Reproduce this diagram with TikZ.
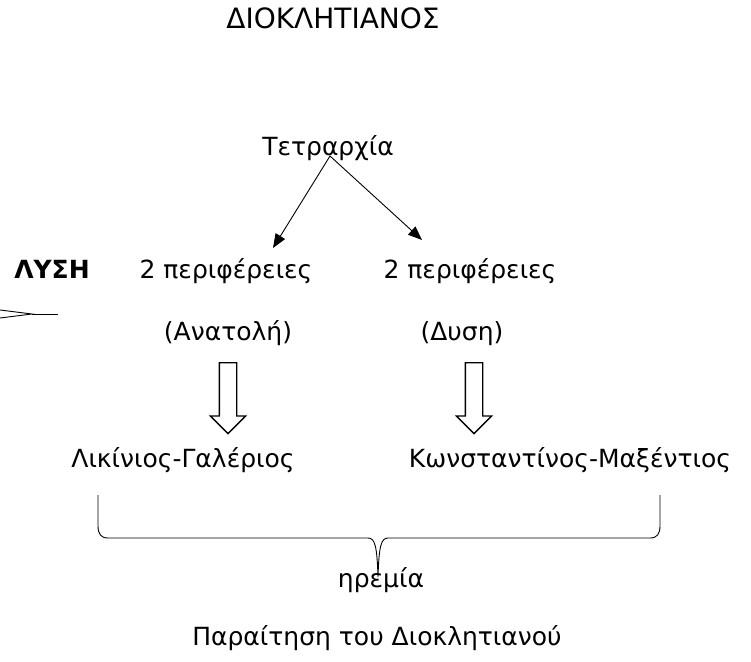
\documentclass[tikz,border=0pt]{standalone}
\usepackage{fontspec}
\setmainfont{DejaVu Sans}
\usetikzlibrary{arrows.meta,shapes.arrows}
\begin{document}
\begin{tikzpicture}[x=1pt,y=-1pt,
  txt/.style={anchor=base,inner sep=0pt,font=\fontsize{25}{30}\selectfont},
  thinline/.style={line width=0.9pt},
  bigdown/.style={single arrow,draw,line width=1.3pt,rotate=-90,anchor=tail,
    inner sep=0pt,minimum height=71pt,single arrow head extend=9pt,
    single arrow tip angle=90},
  >={Triangle[length=14pt,width=11pt]}]
\useasboundingbox (0,0) rectangle (751,661);
\node[txt,font=\fontsize{28}{32}\selectfont](dio) at (333,29) {ΔΙΟΚΛΗΤΙΑΝΟΣ};
%
\node[txt](tetr) at (328,155) {Τετραρχία};
\coordinate(tsrc) at (330,156);
\coordinate(tipW) at (273,248);
\coordinate(tipE) at (422,240);
\draw[thinline,->](tsrc) -- (tipW) {};
\draw[thinline,->](tsrc) -- (tipE) {};
%
\node[txt,font=\fontsize{25}{30}\selectfont\bfseries](lysi) at (52,278) {ΛΥΣΗ};
\node[txt](perW) at (226,278) {2 περιφέρειες};
\node[txt](perE) at (470,278) {2 περιφέρειες};
%
\coordinate(wtop) at (0,310);
\coordinate(wbot) at (0,318);
\coordinate(wmid) at (32,314);
\coordinate(wend) at (58,314);
\draw[thinline](wtop) -- (wmid) -- (wbot);
\draw[thinline](wmid) -- (wend);
%
\node[txt](anat) at (228,340) {(Ανατολή)};
\node[txt](dysi) at (462,340) {(Δυση)};
%
\node[bigdown](arwW) at (228,362) {\rule{0pt}{16pt}};
\node[bigdown](arwE) at (474,362) {\rule{0pt}{16pt}};
%
\node[txt](lik) at (183,467) {Λικίνιος-Γαλέριος};
\node[txt](kon) at (570,467) {Κωνσταντίνος-Μαξέντιος};
%
\coordinate(brL) at (98,495);
\coordinate(brR) at (660,495);
\coordinate(brtip) at (378,577);
\draw[thinline](brL) -- (98,526) .. controls (98,534) and (101,538) .. (108,538)
  -- (368,538) .. controls (375,538) and (377,546) .. (brtip)
  .. controls (379,546) and (381,538) .. (388,538)
  -- (650,538) .. controls (657,538) and (660,534) .. (660,526) -- (brR);
%
\node[txt](irem) at (381,587) {ηρεμία};
%
\node[txt](parait) at (377,645) {Παραίτηση του Διοκλητιανού};
\end{tikzpicture}
\end{document}
